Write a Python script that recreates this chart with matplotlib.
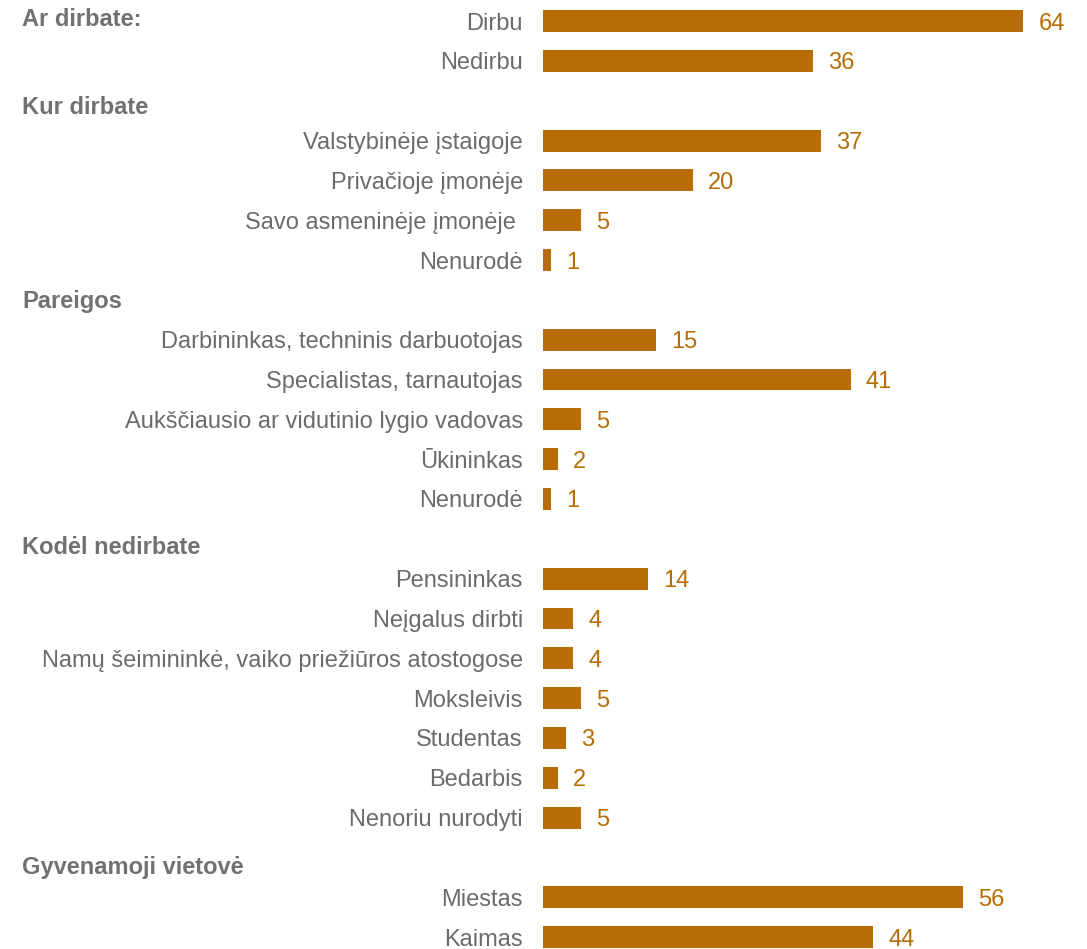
import matplotlib
matplotlib.use('Agg')
import matplotlib.pyplot as plt
import matplotlib.transforms as mtransforms

plt.rcParams['font.family'] = ['Liberation Sans', 'DejaVu Sans']

# duomenys
headers = ['Ar dirbate:', 'Kur dirbate', 'Pareigos', 'Kodėl nedirbate', 'Gyvenamoji vietovė']

ar_dirbate_lab = ['Dirbu', 'Nedirbu']
ar_dirbate_val = [64, 36]

kur_dirbate_lab = ['Valstybinėje įstaigoje', 'Privačioje įmonėje', 'Savo asmeninėje įmonėje ', 'Nenurodė']
kur_dirbate_val = [37, 20, 5, 1]

pareigos_lab = ['Darbininkas, techninis darbuotojas', 'Specialistas, tarnautojas',
                'Aukščiausio ar vidutinio lygio vadovas', 'Ūkininkas', 'Nenurodė']
pareigos_val = [15, 41, 5, 2, 1]

nedirba_lab = ['Pensininkas', 'Neįgalus dirbti', 'Namų šeimininkė, vaiko priežiūros atostogose',
               'Moksleivis', 'Studentas', 'Bedarbis', 'Nenoriu nurodyti']
nedirba_val = [14, 4, 4, 5, 3, 2, 5]

vietove_lab = ['Miestas', 'Kaimas']
vietove_val = [56, 44]

groups = [(ar_dirbate_lab, ar_dirbate_val), (kur_dirbate_lab, kur_dirbate_val),
          (pareigos_lab, pareigos_val), (nedirba_lab, nedirba_val), (vietove_lab, vietove_val)]

BAR = '#B76D03'
TXT = '#6B6B6B'
HDR = '#717171'
FS = 17

# eiluciu pozicijos: kiekviena grupe (isskyrus pirma) turi tuscia eilute antrastei
hdr_shift = [-0.1, 0.1, -0.03, 0.16, 0.19]
ys, labels, vals, header_y = [], [], [], []
row = 0
for gi, (lab, val) in enumerate(groups):
    if gi == 0:
        header_y.append(row + hdr_shift[gi])
    else:
        header_y.append(row + hdr_shift[gi])
        row += 1
    for l, v in zip(lab, val):
        ys.append(row)
        labels.append(l)
        vals.append(v)
        row += 1

fig = plt.figure(figsize=(10.87, 9.49), dpi=100)
ax = fig.add_axes([543 / 1087, 0, 540 / 1087, 1])
ax.barh(ys, vals, height=0.55, color=BAR)
ax.set_xlim(0, 72)
ax.set_ylim(23.3, -0.53)

ax.set_yticks(ys)
ax.set_yticklabels(labels, fontsize=FS, color=TXT, va='center_baseline')
ax.tick_params(axis='y', length=0, pad=14.5)
ax.set_xticks([])
for s in ax.spines.values():
    s.set_visible(False)

for y, v in zip(ys, vals):
    ax.annotate(str(v), (v, y), xytext=(11, 0), textcoords='offset points',
                va='center_baseline', ha='left', fontsize=FS, color=BAR)

trans = mtransforms.blended_transform_factory(fig.transFigure, ax.transData)
for h, hy in zip(headers, header_y):
    ax.text(22 / 1087, hy, h, transform=trans, fontsize=FS, fontweight='bold',
            color=HDR, va='center_baseline', ha='left')

fig.savefig('out.png', dpi=100, facecolor='white')
